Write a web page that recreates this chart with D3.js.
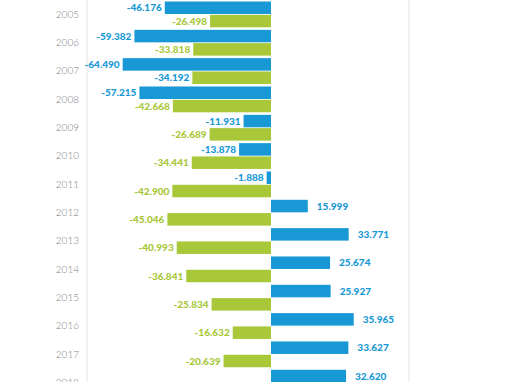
<!DOCTYPE html>
<html>
<head>
<meta charset="utf-8">
<script src="https://cdn.jsdelivr.net/npm/d3@7"></script>
<style>
  html, body { margin: 0; padding: 0; background: #fff; }
  svg { display: block; }
</style>
</head>
<body>
<svg id="chart" width="510" height="382"></svg>
<script>
const years = ["2005","2006","2007","2008","2009","2010","2011","2012","2013","2014","2015","2016","2017","2018"];
const seriesA = [-46.176,-59.382,-64.490,-57.215,-11.931,-13.878,-1.888,15.999,33.771,25.674,25.927,35.965,33.627,32.620];
const seriesB = [-26.498,-33.818,-34.192,-42.668,-26.689,-34.441,-42.900,-45.046,-40.993,-36.841,-25.834,-16.632,-20.639,null];
const xDomain = [-80, 60];

const colorA = "#1899d6";
const colorB = "#a8c83a";

const svg = d3.select("#chart");
const x = d3.scaleLinear().domain(xDomain).range([87, 409]);
const step = 28.33;
const y = d3.scaleBand().domain(years).range([0.3, 0.3 + step * years.length]).padding(0);
const sub = d3.scaleBand().domain(["a","b"]).range([1.2, 27]).paddingInner(0.06);

// gridlines at domain edges
svg.append("g").selectAll("line").data(xDomain).join("line")
  .attr("x1", d => x(d)).attr("x2", d => x(d))
  .attr("y1", 0).attr("y2", 382)
  .attr("stroke", "#e6e6e6").attr("stroke-width", 1);

const fmt = v => {
  const s = Math.abs(v).toFixed(3);
  return (v < 0 ? "-" : "") + s;
};

// year labels
const yAxis = d3.axisLeft(y).tickSize(0).tickPadding(0);
const ga = svg.append("g").attr("transform", "translate(79,0)").call(yAxis);
ga.select(".domain").remove();
ga.selectAll("text")
  .attr("font-family", "Lato, 'Open Sans', sans-serif")
  .attr("font-size", 10)
  .attr("font-weight", 300)
  .attr("fill", "#808080");

const rows = years.map((yr, i) => ({yr, a: seriesA[i], b: seriesB[i]}));
const data = [];
rows.forEach(r => {
  data.push({yr: r.yr, key: "a", v: r.a});
  if (r.b !== null) data.push({yr: r.yr, key: "b", v: r.b});
});

const g = svg.append("g");
g.selectAll("rect").data(data).join("rect")
  .attr("x", d => Math.min(x(0), x(d.v)))
  .attr("width", d => Math.abs(x(d.v) - x(0)))
  .attr("y", d => y(d.yr) + sub(d.key))
  .attr("height", sub.bandwidth())
  .attr("fill", d => d.key === "a" ? colorA : colorB);

g.selectAll("text").data(data).join("text")
  .attr("x", d => d.v < 0 ? x(d.v) - 3 : x(d.v) + 9)
  .attr("y", d => y(d.yr) + sub(d.key) + sub.bandwidth() / 2)
  .attr("dy", "0.35em")
  .attr("text-anchor", d => d.v < 0 ? "end" : "start")
  .attr("font-family", "Lato, 'Open Sans', sans-serif")
  .attr("font-weight", 900)
  .attr("font-size", 10)
  .attr("fill", d => (d.key === "a" || (d.yr === "2007")) ? colorA : colorB)
  .text(d => fmt(d.v));
</script>
</body>
</html>
